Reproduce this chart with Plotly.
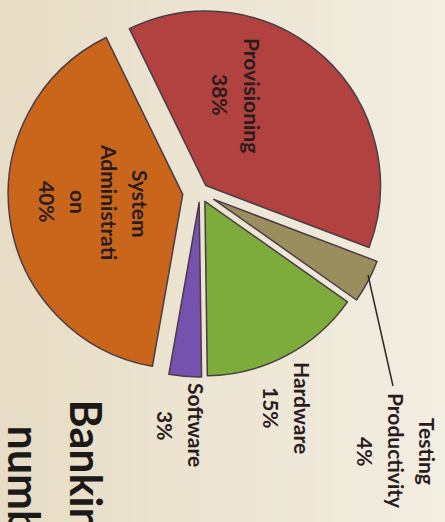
import plotly.graph_objects as go

# ---- data ----
labels = ["Provisioning", "Testing Productivity", "Hardware", "Software", "System Administration"]
values = [38, 4, 15, 3, 40]
label_lines = [["Provisioning", "38%"],
               ["Testing", "Productivity", "4%"],
               ["Hardware", "15%"],
               ["Software", "3%"],
               ["System", "Administrati", "on", "40%"]]
title_lines = ["Banking", "numbers"]

# ---- styles / layout ----
W, H = 445, 522
colors = ["#b24240", "#9b8e5e", "#7eac3c", "#7452ae", "#c9661c"]
pulls = [0.05, 0.09, 0.06, 0.06, 0.1]

# label line positions (pixel centres) for rotated text
label_pos = [[(252, 95), (220, 95)],
             [(428, 451), (397, 451), (366, 451)],
             [(303, 408), (272, 408)],
             [(197, 425), (166, 425)],
             [(140, 204), (109, 202), (78, 202), (47, 202)]]
title_pos = [(86, 397), (24, 423)]

def px(x):
    return x / W

def py(y):
    return 1 - y / H

fig = go.Figure()
fig.add_trace(go.Pie(
    labels=labels, values=values, sort=False, direction="clockwise",
    rotation=-26, pull=pulls, textinfo="none", hoverinfo="label+percent",
    marker=dict(colors=colors, line=dict(color="#4a3c46", width=1.5)),
    domain=dict(x=[px(200 - 192), px(200 + 192)], y=[py(384), 1.0]),
    showlegend=False,
))

annotations = []
for lines, poss in zip(label_lines, label_pos):
    for t, (x, y) in zip(lines, poss):
        annotations.append(dict(
            text=t, x=px(x), y=py(y), xref="paper", yref="paper",
            xanchor="center", yanchor="middle", showarrow=False, textangle=90,
            font=dict(family="Lato", size=21, color="#2a1c1c", weight="bold")))
for t, (x, y) in zip(title_lines, title_pos):
    annotations.append(dict(
        text=t, x=px(x), y=py(y), xref="paper", yref="paper",
        xanchor="center", yanchor="top", showarrow=False, textangle=90,
        font=dict(family="Lato", size=43, color="#1c1a18", weight="bold")))

shapes = []
# soft background gradient
n = 24
for i in range(n):
    f = i / (n - 1)
    r = int(231 + (243 - 231) * f)
    g = int(221 + (238 - 221) * f)
    b = int(198 + (226 - 198) * f)
    shapes.append(dict(type="rect", xref="paper", yref="paper",
                       x0=i / n, x1=(i + 1) / n + 0.002, y0=0, y1=1,
                       fillcolor=f"rgb({r},{g},{b})", line=dict(width=0), layer="below"))
# leader line for Testing Productivity
shapes.append(dict(type="line", xref="paper", yref="paper",
                   x0=px(368), y0=py(275), x1=px(393), y1=py(386),
                   line=dict(color="#2e2a28", width=1.5)))

fig.update_layout(
    width=W, height=H, margin=dict(l=0, r=0, t=0, b=0),
    paper_bgcolor="#ede5d2", plot_bgcolor="#ede5d2",
    annotations=annotations, shapes=shapes,
)
fig.write_html("out.html")
